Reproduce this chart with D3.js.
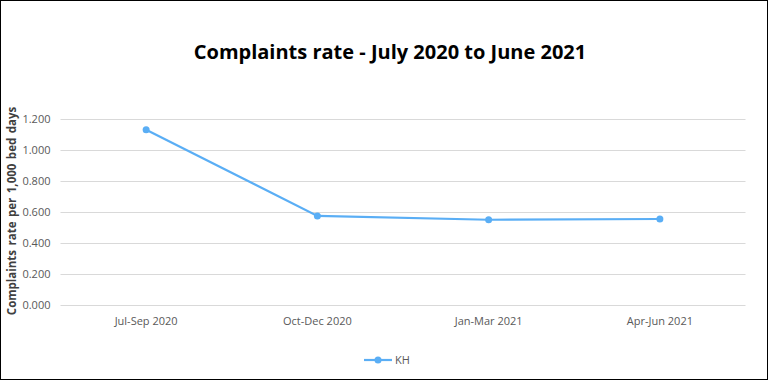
<!DOCTYPE html>
<html><head><meta charset="utf-8">
<script src="https://cdn.jsdelivr.net/npm/d3@7"></script>
<style>body{margin:0;background:#fff}svg{display:block}</style>
</head><body>
<svg id="c" width="768" height="380"></svg>
<script>
const categories = ["Jul-Sep 2020","Oct-Dec 2020","Jan-Mar 2021","Apr-Jun 2021"];
const values = [1.130, 0.575, 0.550, 0.555];
const yTicks = [0,0.2,0.4,0.6,0.8,1.0,1.2];
const seriesName = "KH";
const color = "#5aaef5";

const svg = d3.select("#c");
svg.append("rect").attr("x",0.5).attr("y",0.5).attr("width",767).attr("height",379)
  .attr("fill","#fff").attr("stroke","#000").attr("stroke-width",1);

const x = d3.scaleBand().domain(categories).range([60.5,745.5]);
const y = d3.scaleLinear().domain([0,1.2]).range([305,119]);

svg.append("text").attr("x",390).attr("y",59).attr("text-anchor","middle")
  .attr("font-family","Open Sans, sans-serif").attr("font-weight","bold").attr("font-size",20)
  .attr("fill","#000").text("Complaints rate - July 2020 to June 2021");

const gy = svg.append("g").attr("transform","translate(60.5,0)")
  .call(d3.axisLeft(y).tickValues(yTicks).tickSize(-685).tickFormat(d3.format(".3f")));
gy.select(".domain").remove();
gy.selectAll(".tick line").attr("stroke","#d9d9d9");
gy.selectAll(".tick text").attr("x",-10).attr("fill","#595959")
  .attr("font-family","Open Sans, sans-serif").attr("font-size",11);

const gx = svg.append("g").attr("transform","translate(0,305)")
  .call(d3.axisBottom(x).tickSize(0).tickPadding(12));
gx.select(".domain").remove();
gx.selectAll(".tick text").attr("fill","#595959")
  .attr("font-family","Open Sans, sans-serif").attr("font-size",11);

svg.append("text").attr("transform","translate(16,211) rotate(-90)").attr("text-anchor","middle")
  .attr("font-family","Open Sans, sans-serif").attr("font-weight","bold").attr("font-size",11.5)
  .attr("fill","#404040").attr("word-spacing",1.5).text("Complaints rate  per 1,000  bed days");

const line = d3.line().x((d,i)=>x(categories[i])+x.bandwidth()/2).y(d=>y(d));
svg.append("path").datum(values).attr("d",line).attr("fill","none")
  .attr("stroke",color).attr("stroke-width",2.2);
svg.selectAll("circle.pt").data(values).enter().append("circle").attr("class","pt")
  .attr("cx",(d,i)=>x(categories[i])+x.bandwidth()/2).attr("cy",d=>y(d)).attr("r",3.5)
  .attr("fill",color);

const lg = svg.append("g");
lg.append("line").attr("x1",364).attr("x2",392).attr("y1",360).attr("y2",360)
  .attr("stroke",color).attr("stroke-width",2.2);
lg.append("circle").attr("cx",378).attr("cy",360).attr("r",3.5).attr("fill",color);
lg.append("text").attr("x",395).attr("y",364).attr("font-family","Open Sans, sans-serif")
  .attr("font-size",11).attr("fill","#595959").text(seriesName);
</script>
</body></html>
